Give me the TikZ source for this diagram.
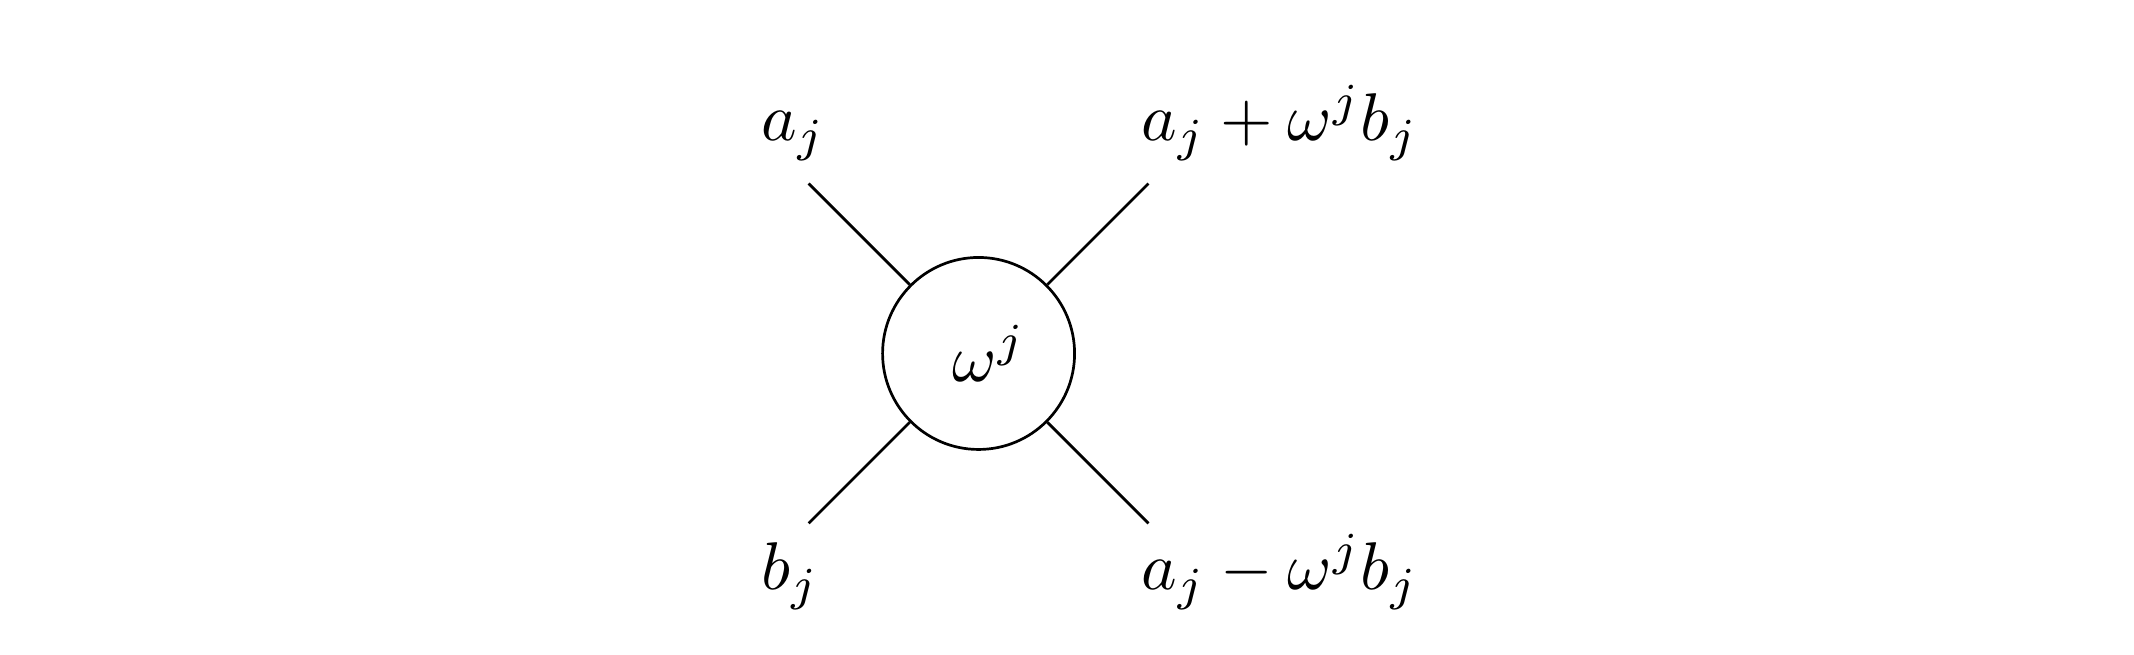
\documentclass[tikz,border=0pt]{standalone}
\begin{document}
\begin{tikzpicture}[lbl/.style={anchor=base}]
    % Bordo
    \useasboundingbox (-5.097,-1.570) rectangle (6.018,1.841);

    % Farfalla
    \node[draw, circle, minimum size=1cm, inner sep=0pt] (w) at (0,0) {};
    \node (wj) at (0.055,0) {$\omega^j$};

    % Estremi dei rami
    \coordinate (nw) at (-0.885,0.885);
    \coordinate (ne) at (0.885,0.885);
    \coordinate (sw) at (-0.885,-0.885);
    \coordinate (se) at (0.885,-0.885);

    \draw (w.135) -- (nw);
    \draw (w.45) -- (ne);
    \draw (w.225) -- (sw);
    \draw (w.315) -- (se);

    % Etichette
    \node[lbl] (aj) at (-0.965,1.107) {$a_j$};
    \node[lbl] (sum) at (1.569,1.107) {$a_j + \omega^j b_j$};
    \node[lbl] (bj) at (-0.98,-1.232) {$b_j$};
    \node[lbl] (diff) at (1.569,-1.232) {$a_j - \omega^j b_j$};

\end{tikzpicture}
\end{document}
